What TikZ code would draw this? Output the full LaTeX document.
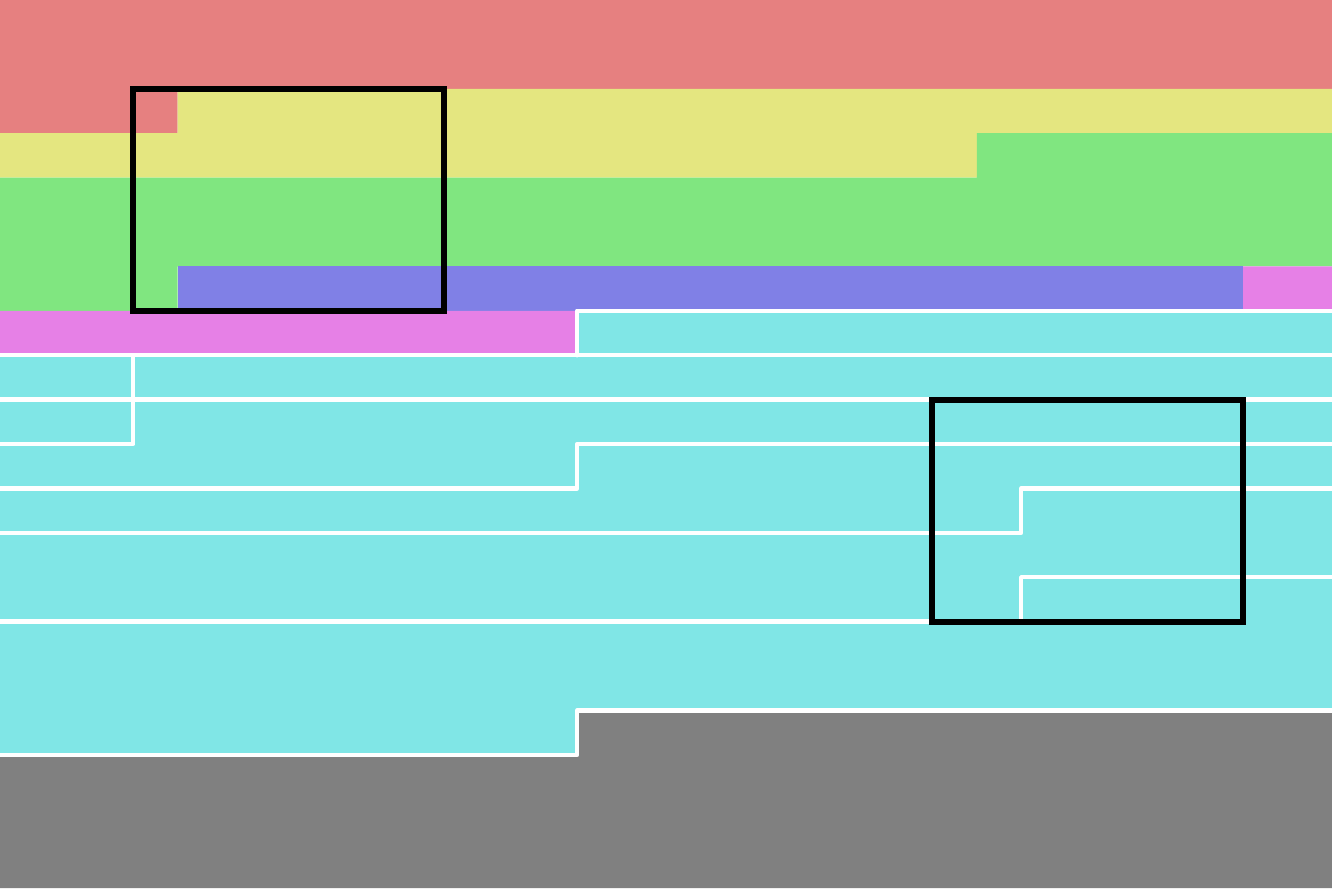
\documentclass[tikz,border=0pt]{standalone}
\definecolor{cred}{RGB}{230,128,128}
\definecolor{cyel}{RGB}{228,230,128}
\definecolor{cgrn}{RGB}{128,230,128}
\definecolor{cblu}{RGB}{128,128,230}
\definecolor{cmag}{RGB}{230,128,230}
\definecolor{ccya}{RGB}{128,230,230}
\definecolor{cgry}{RGB}{128,128,128}
\begin{document}
\begin{tikzpicture}[x=1cm,y=-1cm,
  sep/.style={draw=white,line width=2.9pt,line join=round,line cap=round},
  frame/.style={draw=black,line width=3.8pt}]
\useasboundingbox (0,0) rectangle (30,20);
% red
\fill[cred] (0,0) -- (30,0) -- (30,2) -- (4,2) -- (4,3) -- (0,3) -- cycle;
% yellow
\fill[cyel] (4,2) -- (30,2) -- (30,3) -- (22,3) -- (22,4) -- (0,4) -- (0,3) -- (4,3) -- cycle;
% green
\fill[cgrn] (22,3) -- (30,3) -- (30,6) -- (4,6) -- (4,7) -- (0,7) -- (0,4) -- (22,4) -- cycle;
% blue
\fill[cblu] (4,6) rectangle (28,7);
% magenta
\fill[cmag] (28,6) -- (30,6) -- (30,7) -- (13,7) -- (13,8) -- (0,8) -- (0,7) -- (28,7) -- cycle;
% cyan
\fill[ccya] (13,7) -- (30,7) -- (30,16) -- (13,16) -- (13,17) -- (0,17) -- (0,8) -- (13,8) -- cycle;
% gray
\fill[cgry] (13,16) -- (30,16) -- (30,20) -- (0,20) -- (0,17) -- (13,17) -- cycle;
% white separators
\draw[sep] (30,7) -- (13,7) -- (13,8);
\draw[sep] (0,8) -- (30,8);
\draw[sep] (3,8) -- (3,10) -- (0,10);
\draw[sep] (0,9) -- (30,9);
\draw[sep] (30,10) -- (13,10) -- (13,11) -- (0,11);
\draw[sep] (30,11) -- (23,11) -- (23,12) -- (0,12);
\draw[sep] (30,13) -- (23,13) -- (23,14) -- (0,14);
\draw[sep] (30,16) -- (13,16) -- (13,17) -- (0,17);
% black frames
\draw[frame] (3,2) rectangle (10,7);
\draw[frame] (21,9) rectangle (28,14);
\end{tikzpicture}
\end{document}
